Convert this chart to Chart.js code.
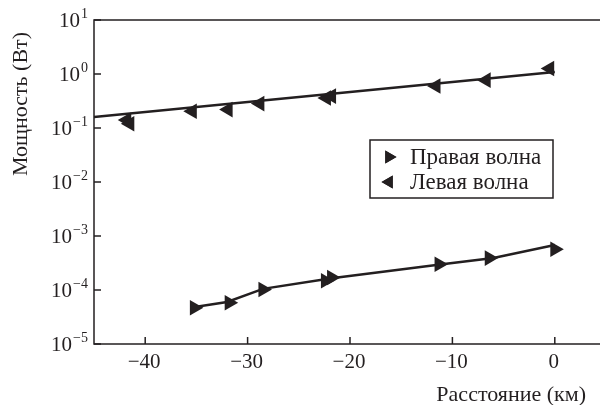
<!DOCTYPE html>
<html>
<head>
<meta charset="utf-8">
<script src="https://cdn.jsdelivr.net/npm/chart.js@4.4.0/dist/chart.umd.min.js"></script>
<style>
html, body { margin: 0; padding: 0; background: #fff; overflow: hidden; }
#wrap { width: 620px; height: 405px; }
</style>
</head>
<body>
<div id="wrap"><canvas id="chart" width="620" height="405"></canvas></div>
<script>
// Measured points (distance km, power W)
const rightWaveX = [-35.2, -31.8, -28.5, -22.4, -21.8, -11.3, -6.4, 0];
const rightWaveY = [4.7e-5, 5.8e-5, 1.02e-4, 1.48e-4, 1.7e-4, 3.0e-4, 3.9e-4, 5.7e-4];
const leftWaveX = [-41.8, -41.5, -35.4, -31.9, -28.8, -22.3, -21.8, -11.6, -6.7, -0.5];
const leftWaveY = [0.14, 0.12, 0.204, 0.219, 0.283, 0.36, 0.39, 0.60, 0.77, 1.26];

// Fitted curves
const rightFitX = [-35, -32, -28.5, -21.8, -11, -6, 0];
const rightFitY = [4.9e-5, 6.0e-5, 1.05e-4, 1.65e-4, 3.0e-4, 3.9e-4, 6.8e-4];
const leftFitX = [-45, 0];
const leftFitY = [0.16, 1.09];

const xTicks = [-40, -30, -20, -10, 0];
const yExponents = [-5, -4, -3, -2, -1, 0, 1];

const legendLabels = ["Правая волна", "Левая волна"];
const xTitle = "Расстояние (км)";
const yTitle = "Мощность (Вт)";

const ink = "#231f20";
const serif = "'Liberation Serif', 'DejaVu Serif', serif";

const toPoints = (xs, ys) => xs.map((x, i) => ({ x: x, y: ys[i] }));

// Frame, inner ticks, tick labels, titles and legend
const decorPlugin = {
    id: "decor",
    afterDraw(chart) {
        const ctx = chart.ctx;
        const area = chart.chartArea;
        const xs = chart.scales.x;
        const ys = chart.scales.y;
        ctx.save();
        ctx.strokeStyle = ink;
        ctx.fillStyle = ink;
        ctx.lineWidth = 1.5;
        ctx.strokeRect(area.left, area.top, area.right - area.left, area.bottom - area.top);

        // x ticks and labels
        ctx.font = "21px " + serif;
        ctx.textAlign = "center";
        ctx.textBaseline = "middle";
        xTicks.forEach(v => {
            const px = xs.getPixelForValue(v);
            ctx.beginPath();
            ctx.moveTo(px, area.bottom);
            ctx.lineTo(px, area.bottom - 7);
            ctx.stroke();
            ctx.fillText(v < 0 ? "\u2212" + Math.abs(v) : String(v), px - 1, area.bottom + 18);
        });

        // y ticks and labels 10^n
        yExponents.forEach(e => {
            const py = ys.getPixelForValue(Math.pow(10, e));
            ctx.beginPath();
            ctx.moveTo(area.left, py);
            ctx.lineTo(area.left + 7, py);
            ctx.stroke();
            const expText = e < 0 ? "\u2212" + Math.abs(e) : String(e);
            ctx.font = "14px " + serif;
            const expW = ctx.measureText(expText).width;
            ctx.textAlign = "left";
            ctx.fillText(expText, 88 - expW, py - 6);
            ctx.font = "21px " + serif;
            ctx.textAlign = "right";
            ctx.fillText("10", 88 - expW - 1, py + 1);
        });

        // axis titles
        ctx.font = "22px " + serif;
        ctx.textAlign = "right";
        ctx.fillText(xTitle, 586, 395);
        ctx.save();
        ctx.translate(21, 104);
        ctx.rotate(-Math.PI / 2);
        ctx.textAlign = "center";
        ctx.fillText(yTitle, 0, 0);
        ctx.restore();

        // legend
        ctx.lineWidth = 1.5;
        ctx.fillStyle = "#fff";
        ctx.fillRect(370, 140, 183, 58);
        ctx.strokeRect(370, 140, 183, 58);
        ctx.fillStyle = ink;
        ctx.textAlign = "left";
        ctx.font = "23px " + serif;
        [90, -90].forEach((rot, i) => {
            const cy = 157 + i * 25;
            Chart.helpers.drawPoint(ctx, { pointStyle: "triangle", rotation: rot, radius: 7.5, borderWidth: 0 }, 389, cy);
            ctx.fill();
            ctx.fillText(legendLabels[i], 410, cy + 1);
        });
        ctx.restore();
    }
};

new Chart(document.getElementById("chart").getContext("2d"), {
    type: "scatter",
    data: {
        datasets: [
            {
                data: toPoints(rightFitX, rightFitY),
                showLine: true,
                borderColor: ink,
                borderWidth: 2.5,
                pointRadius: 0,
            },
            {
                data: toPoints(leftFitX, leftFitY),
                showLine: true,
                borderColor: ink,
                borderWidth: 2.5,
                pointRadius: 0,
            },
            {
                data: toPoints(rightWaveX, rightWaveY),
                pointStyle: "triangle",
                pointRotation: 90,
                pointRadius: 9,
                backgroundColor: ink,
                borderColor: ink,
                borderWidth: 0,
            },
            {
                data: toPoints(leftWaveX, leftWaveY),
                pointStyle: "triangle",
                pointRotation: -90,
                pointRadius: 9,
                backgroundColor: ink,
                borderColor: ink,
                borderWidth: 0,
            },
        ]
    },
    options: {
        responsive: false,
        animation: false,
        layout: { padding: { left: 86, top: 20, right: 14, bottom: 53 } },
        plugins: { legend: { display: false }, tooltip: { enabled: false } },
        scales: {
            x: {
                type: "linear",
                min: -45,
                max: 5,
                grid: { display: false },
                border: { display: false },
                ticks: { display: false },
            },
            y: {
                type: "logarithmic",
                min: 1e-5,
                max: 10,
                grid: { display: false },
                border: { display: false },
                ticks: { display: false },
            }
        }
    },
    plugins: [decorPlugin]
});
</script>
</body>
</html>
